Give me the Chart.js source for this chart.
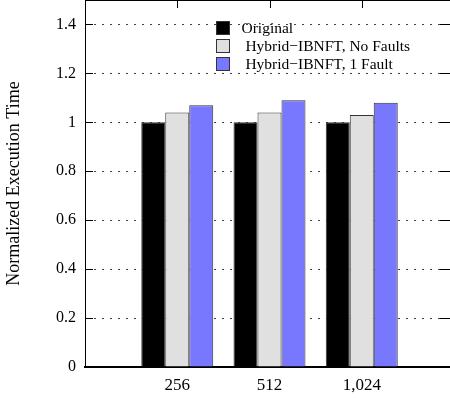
<!DOCTYPE html>
<html><head><meta charset="utf-8">
<script src="https://cdn.jsdelivr.net/npm/chart.js@4/dist/chart.umd.min.js"></script>
<style>html,body{margin:0;padding:0;overflow:hidden;background:#fff;width:450px;height:398px}</style>
</head><body>
<canvas id="c" width="456" height="398"></canvas>
<script>
const categories = ['256', '512', '1,024'];
const original = [1.0, 1.0, 1.0];
const noFaults = [1.04, 1.04, 1.03];
const oneFault = [1.07, 1.09, 1.08];
const seriesLabels = ['Original', ' Hybrid\u2212IBNFT, No Faults', ' Hybrid\u2212IBNFT, 1 Fault'];
const yTicks = [0, 0.2, 0.4, 0.6, 0.8, 1, 1.2, 1.4];

const pad = a => [null, ...a, null];
const labels = ['', ...categories, ''];
const serif = "'Liberation Serif', 'Times New Roman', serif";
Chart.defaults.font.family = serif;
Chart.defaults.color = '#000';

const frame = {
  id: 'frame',
  afterDatasetsDraw(chart) {
    const {ctx, chartArea: a, scales} = chart;
    ctx.save();
    ctx.strokeStyle = '#000';
    ctx.lineWidth = 1;
    ctx.beginPath(); ctx.moveTo(a.left, a.top + 0.5); ctx.lineTo(a.right, a.top + 0.5); ctx.stroke();
    categories.forEach((c, i) => {
      const x = Math.round(scales.x.getPixelForValue(i + 1)) + 0.5;
      ctx.beginPath(); ctx.moveTo(x, a.top); ctx.lineTo(x, a.top + 8); ctx.stroke();
    });
    yTicks.forEach(v => {
      if (v === 0) return;
      const y = Math.round(scales.y.getPixelForValue(v)) + 0.5;
      ctx.beginPath(); ctx.moveTo(a.left, y); ctx.lineTo(a.left + 8, y); ctx.stroke();
      ctx.beginPath(); ctx.moveTo(a.right - 14, y); ctx.lineTo(a.right, y); ctx.stroke();
    });
    const ds = chart.data.datasets;
    ctx.font = "15.5px " + serif;
    ctx.textBaseline = 'middle';
    ctx.textAlign = 'left';
    ds.forEach((d, i) => {
      const bx = a.left + 131.5, by = a.top + 21.5 + i * 18;
      ctx.fillStyle = d.backgroundColor;
      ctx.fillRect(bx, by, 13, 13);
      ctx.strokeStyle = '#333';
      ctx.strokeRect(bx, by, 13, 13);
      ctx.fillStyle = '#000';
      ctx.fillText(d.label, bx + 25, by + 7);
    });
    ctx.restore();
  }
};

new Chart(document.getElementById('c'), {
  type: 'bar',
  data: {
    labels,
    datasets: [
      {label: seriesLabels[0], data: pad(original), backgroundColor: '#000000', borderColor: '#333', borderWidth: 1},
      {label: seriesLabels[1], data: pad(noFaults), backgroundColor: '#e0e0e0', borderColor: '#333', borderWidth: 1},
      {label: seriesLabels[2], data: pad(oneFault), backgroundColor: '#7878ff', borderColor: '#333', borderWidth: 1}
    ]
  },
  options: {
    responsive: false,
    animation: false,
    devicePixelRatio: 1,
    layout: {padding: {top: 0, right: 2, left: 0, bottom: 0}},
    datasets: {bar: {categoryPercentage: 0.78, barPercentage: 1.0}},
    plugins: {legend: {display: false}, tooltip: {enabled: false}},
    scales: {
      x: {
        offset: false,
        grid: {display: false, drawTicks: false},
        border: {display: true, color: '#000', width: 2},
        ticks: {color: '#000', font: {family: serif, size: 17}, padding: 8, autoSkip: false, maxRotation: 0},
        afterFit(s) { s.height = 31; s.paddingLeft = 0; s.paddingRight = 0; }
      },
      y: {
        min: 0, max: 1.5,
        afterBuildTicks(s) { s.ticks = yTicks.map(v => ({value: v})); },
        grid: {
          drawTicks: false,
          color: c => (c.tick && c.tick.value === 0) ? 'rgba(0,0,0,0)' : '#444',
          lineWidth: 1
        },
        border: {display: true, color: '#000', width: 1, dash: [2, 6]},
        ticks: {color: '#000', font: {family: serif, size: 16}, padding: 9,
          callback: v => String(+Number(v).toFixed(1))},
        title: {display: true, text: 'Normalized Execution Time', color: '#000',
          font: {family: serif, size: 18}, padding: {top: 3, bottom: 0}},
        afterFit(s) { s.width = 85; s.paddingTop = 0; s.paddingBottom = 0; }
      }
    }
  },
  plugins: [frame]
});
</script>
</body></html>
